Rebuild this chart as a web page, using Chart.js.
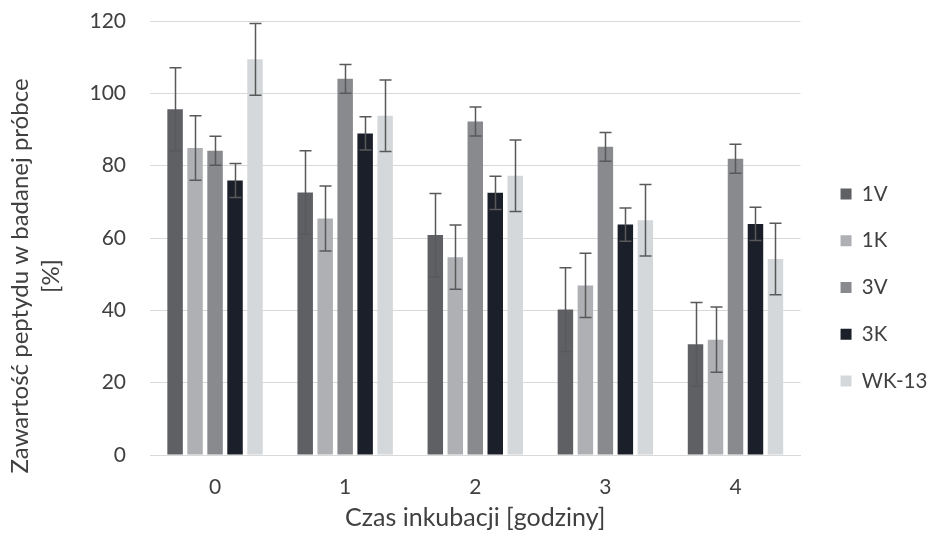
<!DOCTYPE html>
<html>
<head>
<meta charset="utf-8">
<script src="https://cdn.jsdelivr.net/npm/chart.js@4/dist/chart.umd.min.js"></script>
<style>
  html, body { margin: 0; padding: 0; background: #fff; }
  #wrap { width: 931px; height: 540px; }
</style>
</head>
<body>
<div id="wrap"><canvas id="chart"></canvas></div>
<script>
// hours of incubation
const categories = ['0', '1', '2', '3', '4'];
const seriesNames = ['1V', '1K', '3V', '3K', 'WK-13'];

// peptide content [%]
const v1V = [95.6, 72.6, 60.8, 40.2, 30.6];
const v1K = [84.9, 65.4, 54.7, 46.9, 31.9];
const v3V = [84.1, 104.0, 92.2, 85.2, 81.9];
const v3K = [75.9, 88.9, 72.5, 63.7, 63.9];
const vWK = [109.4, 93.8, 77.2, 64.9, 54.2];

// error bar half-lengths
const e1V = [11.5, 11.5, 11.5, 11.6, 11.6];
const e1K = [8.9, 9.0, 8.9, 8.9, 9.0];
const e3V = [4.0, 4.0, 4.0, 4.0, 4.0];
const e3K = [4.7, 4.6, 4.6, 4.6, 4.6];
const eWK = [9.9, 9.9, 9.9, 9.9, 9.9];

const yTicks = [0, 20, 40, 60, 80, 100, 120];
const yTitle = ['Zawartość peptydu w badanej próbce', '[%]'];

const colors = ['#5f6064', '#aeb0b3', '#898a8e', '#1b1f29', '#d5d8da'];
const values = [v1V, v1K, v3V, v3K, vWK];
const errors = [e1V, e1K, e3V, e3K, eWK];

const FONT = 'Lato, "Open Sans", sans-serif';

// draws the error bars on top of the bars, using the y scale
const errorBars = {
  id: 'errorBars',
  afterDatasetsDraw(chart) {
    const ctx = chart.ctx;
    const y = chart.scales.y;
    ctx.save();
    ctx.strokeStyle = '#595959';
    ctx.lineWidth = 1.5;
    chart.data.datasets.forEach((ds, di) => {
      const meta = chart.getDatasetMeta(di);
      meta.data.forEach((bar, i) => {
        const err = ds.errors[i];
        const top = y.getPixelForValue(ds.data[i] + err);
        const bot = y.getPixelForValue(ds.data[i] - err);
        const x = Math.round(bar.x) + 0.5;
        ctx.beginPath();
        ctx.moveTo(x, top); ctx.lineTo(x, bot);
        ctx.moveTo(x - 6, top); ctx.lineTo(x + 6, top);
        ctx.moveTo(x - 6, bot); ctx.lineTo(x + 6, bot);
        ctx.stroke();
      });
    });
    ctx.restore();
  }
};

// y axis title: excel centres it lower than the plot area, so draw it here
const yTitlePlugin = {
  id: 'yTitlePlugin',
  afterDraw(chart) {
    const ctx = chart.ctx;
    ctx.save();
    ctx.translate(20, 276);
    ctx.rotate(-Math.PI / 2);
    ctx.fillStyle = '#404040';
    ctx.font = '24px ' + FONT;
    ctx.textAlign = 'center';
    ctx.textBaseline = 'middle';
    yTitle.forEach((line, i) => ctx.fillText(line, 0, i * 31.5));
    ctx.restore();
  }
};

// move the legend a little, like excel places it
const legendNudge = {
  id: 'legendNudge',
  afterLayout(chart) {
    const lg = chart.legend;
    const dx = 13.8, dy = 7;
    lg.left += dx; lg.right += dx;
    lg.top += dy; lg.bottom += dy;
  }
};

new Chart(document.getElementById('chart'), {
  type: 'bar',
  data: {
    labels: categories,
    datasets: seriesNames.map((name, i) => ({
      label: name,
      data: values[i],
      errors: errors[i],
      backgroundColor: colors[i],
      borderWidth: 0,
      categoryPercentage: 0.768,
      barPercentage: 0.775
    }))
  },
  options: {
    responsive: true,
    maintainAspectRatio: false,
    animation: false,
    devicePixelRatio: 1,
    layout: { padding: { top: 21, left: 0, right: 7.4, bottom: 0 } },
    plugins: {
      tooltip: { enabled: false },
      legend: {
        position: 'right',
        labels: {
          boxWidth: 11,
          boxHeight: 11,
          padding: 26.2,
          color: '#404040',
          font: { family: FONT, size: 20.5 }
        }
      }
    },
    scales: {
      x: {
        grid: { display: false, drawTicks: false },
        border: { display: true, color: '#d9d9d9', width: 1 },
        ticks: { color: '#404040', padding: 20, font: { family: FONT, size: 21 } },
        title: {
          display: true,
          text: 'Czas inkubacji [godziny]',
          color: '#404040',
          font: { family: FONT, size: 25 },
          padding: { top: 0, bottom: 6.6 }
        },
        afterFit(scale) { scale.height = 85; }
      },
      y: {
        min: 0,
        max: 120,
        afterBuildTicks(scale) { scale.ticks = yTicks.map(v => ({ value: v })); },
        grid: { color: '#d9d9d9', lineWidth: 1, drawTicks: false },
        border: { display: false },
        ticks: { color: '#404040', padding: 24, font: { family: FONT, size: 21 } },
        afterFit(scale) {
          scale.width = 150;
          scale.paddingTop = 0;
          scale.paddingBottom = 0;
        }
      }
    }
  },
  plugins: [errorBars, yTitlePlugin, legendNudge]
});
</script>
</body>
</html>
